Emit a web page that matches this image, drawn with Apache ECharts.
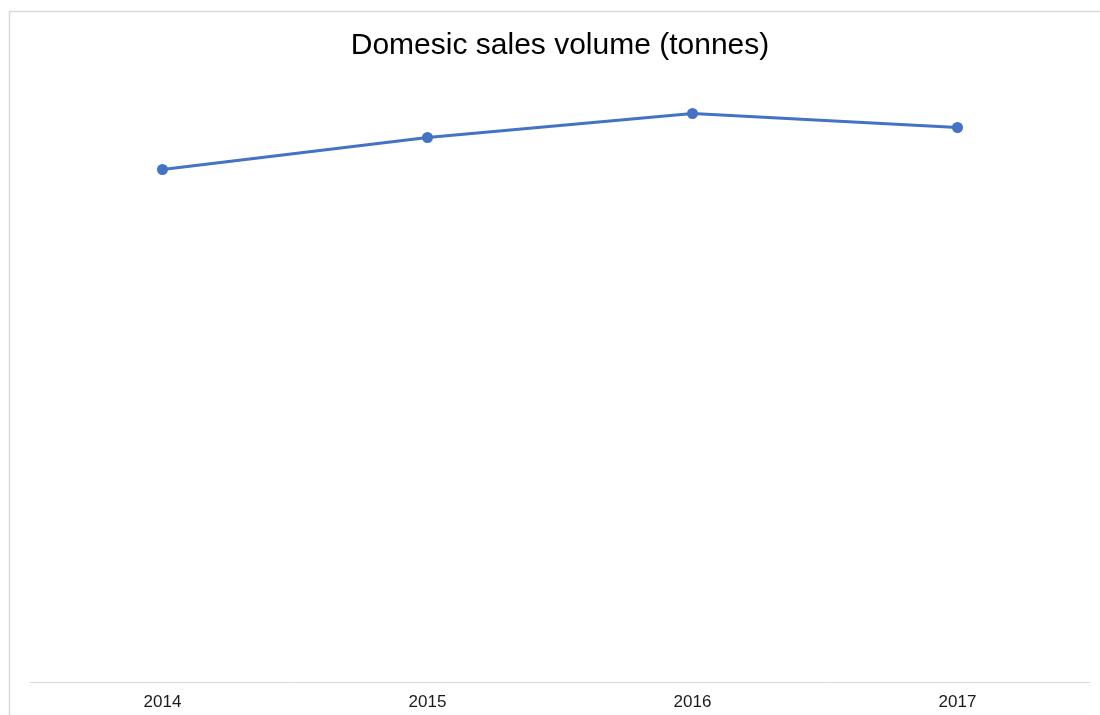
<!DOCTYPE html>
<html>
<head>
<meta charset="utf-8">
<script src="https://cdn.jsdelivr.net/npm/echarts@6/dist/echarts.min.js"></script>
<style>
  html, body { margin: 0; padding: 0; background: #fff; }
  #chart { width: 1100px; height: 715px; }
</style>
</head>
<body>
<div id="chart"></div>
<script>
// values (no y labels shown, scale assumed 0-120)
var years = ['2014', '2015', '2016', '2017'];
var volume = [102.5, 108.9, 113.7, 110.9];

var myChart = echarts.init(document.getElementById('chart'));

var option = {
    animation: false,
    backgroundColor: '#fff',
    title: {
        text: 'Domesic sales volume (tonnes)',
        left: 560,
        textAlign: 'center',
        top: 31,
        padding: 0,
        textStyle: {
            fontFamily: 'Liberation Sans',
            fontSize: 30,
            fontWeight: 'normal',
            color: '#000'
        }
    },
    graphic: [
        {
            type: 'rect',
            shape: { x: 9.5, y: 11.5, width: 1200, height: 800 },
            style: { fill: 'none', stroke: '#d9d9d9', lineWidth: 1.5 },
            silent: true
        }
    ],
    grid: {
        left: 30,
        right: 10,
        top: 82,
        bottom: 33
    },
    xAxis: {
        type: 'category',
        data: years,
        boundaryGap: true,
        axisLine: { lineStyle: { color: '#d9d9d9', width: 1 } },
        axisTick: { show: false },
        axisLabel: {
            margin: 12,
            fontFamily: 'Liberation Sans',
            fontSize: 17,
            color: '#1a1a1a'
        }
    },
    yAxis: {
        type: 'value',
        min: 0,
        max: 120,
        show: false
    },
    series: [
        {
            name: 'Domestic sales volume',
            type: 'line',
            data: volume,
            symbol: 'circle',
            symbolSize: 11,
            itemStyle: { color: '#4472C4' },
            lineStyle: { color: '#4472C4', width: 3 }
        }
    ]
};

myChart.setOption(option);
</script>
</body>
</html>
